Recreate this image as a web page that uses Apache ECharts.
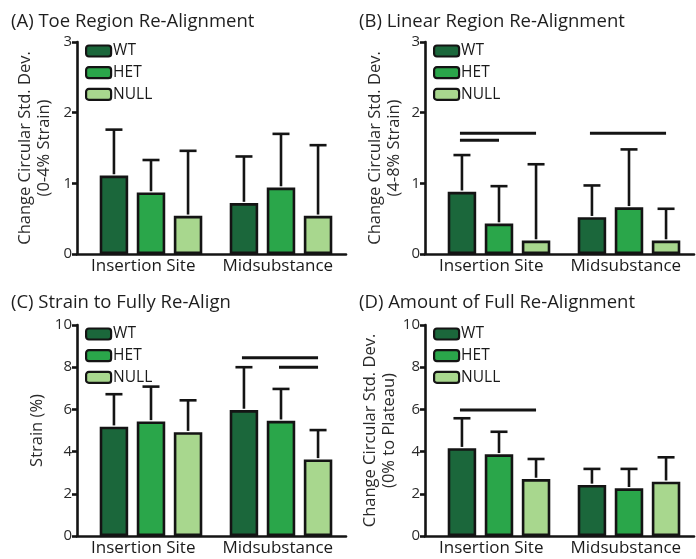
<!DOCTYPE html>
<html>
<head>
<meta charset="utf-8">
<script src="https://cdn.jsdelivr.net/npm/echarts@6/dist/echarts.min.js"></script>
<style>
html,body{margin:0;padding:0;background:#fff;}
#chart{width:696px;height:559px;}
</style>
</head>
<body>
<div id="chart"></div>
<script>
// ---- data ----
const categories = ['Insertion Site', 'Midsubstance'];
const genotypes = ['WT', 'HET', 'NULL'];

const titles = ['(A) Toe Region Re-Alignment', '(B) Linear Region Re-Alignment', '(C) Strain to Fully Re-Align', '(D) Amount of Full Re-Alignment'];
const yNames = ['Change Circular Std. Dev.\n(0-4% Strain)', 'Change Circular Std. Dev.\n(4-8% Strain)', 'Strain (%)', 'Change Circular Std. Dev.\n(0% to Plateau)'];
const yMax = [3, 3, 10, 10];
const yInterval = [1, 1, 2, 2];

// means per genotype, one value per category
const A_WT = [1.11, 0.72], A_HET = [0.87, 0.94], A_NULL = [0.54, 0.54];
const A_WT_err = [1.76, 1.38], A_HET_err = [1.33, 1.70], A_NULL_err = [1.46, 1.54];

const B_WT = [0.88, 0.52], B_HET = [0.43, 0.66], B_NULL = [0.19, 0.19];
const B_WT_err = [1.40, 0.97], B_HET_err = [0.96, 1.48], B_NULL_err = [1.27, 0.64];

const C_WT = [5.18, 5.97], C_HET = [5.43, 5.46], C_NULL = [4.92, 3.63];
const C_WT_err = [6.72, 8.0], C_HET_err = [7.08, 6.97], C_NULL_err = [6.43, 5.02];

const D_WT = [4.16, 2.42], D_HET = [3.87, 2.26], D_NULL = [2.70, 2.57];
const D_WT_err = [5.58, 3.18], D_HET_err = [4.94, 3.18], D_NULL_err = [3.65, 3.73];

// significance bars: [categoryIndex, fromGenotype, toGenotype, yValue]
const A_sig = [];
const B_sig = [[0, 0, 2, 1.71], [0, 0, 1, 1.61], [1, 0, 2, 1.71]];
const C_sig = [[1, 0, 2, 8.45], [1, 1, 2, 8.0]];
const D_sig = [[0, 0, 2, 5.97]];

const panels = [
  {means: [A_WT, A_HET, A_NULL], errs: [A_WT_err, A_HET_err, A_NULL_err], sig: A_sig},
  {means: [B_WT, B_HET, B_NULL], errs: [B_WT_err, B_HET_err, B_NULL_err], sig: B_sig},
  {means: [C_WT, C_HET, C_NULL], errs: [C_WT_err, C_HET_err, C_NULL_err], sig: C_sig},
  {means: [D_WT, D_HET, D_NULL], errs: [D_WT_err, D_HET_err, D_NULL_err], sig: D_sig}
];

// ---- styles ----
const colors = ['#1b673b', '#2aa64a', '#a8d78e'];
const FONT = 'Open Sans';
const BAR_W = 28.5;
const BAR_GAP = 0.30;
const STEP = BAR_W * (1 + BAR_GAP);
const LINE = '#141414';
const LW = 2.6;

// axis grid (visible axes) and bar grid (hidden axes, same vertical extent)
const axisGrid = [
  {left: 77, top: 42, width: 269, height: 212},
  {left: 425, top: 42, width: 269, height: 212},
  {left: 77, top: 325, width: 269, height: 211},
  {left: 425, top: 325, width: 269, height: 211}
];
const barInset = 9, barWidthTotal = 260;
const titlePos = [
  {left: 6, top: 7}, {left: 354, top: 7}, {left: 6, top: 288}, {left: 354, top: 288}
];
const nameGaps = [23, 21, 30, 18];

const option = {
  backgroundColor: '#fff',
  animation: false,
  title: [], grid: [], xAxis: [], yAxis: [], legend: [], series: []
};

panels.forEach((p, k) => {
  const g = axisGrid[k];
  const ai = 2 * k, bi = 2 * k + 1;
  option.title.push({
    text: titles[k], left: titlePos[k].left, top: titlePos[k].top,
    textStyle: {fontFamily: FONT, fontSize: 18.5, fontWeight: 'normal', color: '#1e1e1e'}
  });
  option.grid.push({left: g.left, top: g.top, width: g.width, height: g.height});
  option.grid.push({left: g.left + barInset, top: g.top, width: barWidthTotal, height: g.height});

  // visible axes
  option.xAxis.push({
    type: 'category', gridIndex: ai, data: categories,
    axisLine: {lineStyle: {color: LINE, width: LW}},
    axisTick: {show: false},
    axisLabel: {interval: 0, fontFamily: FONT, fontSize: 17, color: '#1a1a1a', margin: 4, padding: [0, 2, 0, 0]}
  });
  option.yAxis.push({
    type: 'value', gridIndex: ai, min: 0, max: yMax[k], interval: yInterval[k],
    name: yNames[k], nameLocation: 'middle', nameGap: nameGaps[k],
    nameTextStyle: {fontFamily: FONT, fontSize: 16.5, color: '#2a2a2a', lineHeight: 19},
    axisLine: {show: true, lineStyle: {color: LINE, width: LW}},
    axisTick: {show: true, length: 5, lineStyle: {color: LINE, width: LW}},
    axisLabel: {fontFamily: FONT, fontSize: 15, color: '#2a2a2a', margin: 5},
    splitLine: {show: false}
  });
  // hidden axes for the bars
  option.xAxis.push({type: 'category', gridIndex: bi, data: categories, show: false});
  option.yAxis.push({type: 'value', gridIndex: bi, min: 0, max: yMax[k], interval: yInterval[k], show: false, splitLine: {show: false}});

  option.legend.push({
    orient: 'vertical', left: g.left + 8, top: g.top + 1, padding: 0,
    itemWidth: 25, itemHeight: 11, itemGap: 5.7,
    data: genotypes,
    itemStyle: {borderColor: LINE, borderWidth: 2.2},
    textStyle: {fontFamily: FONT, fontSize: 15.5, color: '#1a1a1a', lineHeight: 13, padding: [0, 0, 0, -3]}
  });
  genotypes.forEach((gname, i) => {
    option.series.push({
      type: 'bar', name: gname, xAxisIndex: bi, yAxisIndex: bi,
      data: p.means[i], barWidth: BAR_W, barGap: (BAR_GAP * 100) + '%',
      itemStyle: {color: colors[i], borderColor: LINE, borderWidth: LW},
      z: 2
    });
  });
  // error bars (upper whisker only)
  const errData = [];
  genotypes.forEach((gname, i) => {
    categories.forEach((c, j) => {
      errData.push([j, i, p.means[i][j], p.errs[i][j]]);
    });
  });
  option.series.push({
    type: 'custom', xAxisIndex: bi, yAxisIndex: bi, z: 3,
    encode: {x: 0, y: [2, 3]},
    data: errData,
    renderItem: function (params, api) {
      const j = api.value(0), i = api.value(1);
      const lo = api.coord([j, api.value(2)]);
      const hi = api.coord([j, api.value(3)]);
      const x = lo[0] + (i - 1) * STEP;
      const half = 8.5;
      const st = {stroke: LINE, lineWidth: LW, fill: null};
      return {
        type: 'group',
        children: [
          {type: 'line', shape: {x1: x, y1: lo[1] - LW / 2, x2: x, y2: hi[1]}, style: st},
          {type: 'line', shape: {x1: x - half, y1: hi[1], x2: x + half, y2: hi[1]}, style: st}
        ]
      };
    }
  });
  // significance lines
  if (p.sig.length) {
    option.series.push({
      type: 'custom', xAxisIndex: bi, yAxisIndex: bi, z: 3,
      encode: {x: 0, y: 3},
      data: p.sig,
      renderItem: function (params, api) {
        const j = api.value(0);
        const c = api.coord([j, api.value(3)]);
        const x1 = c[0] + (api.value(1) - 1) * STEP - 2;
        const x2 = c[0] + (api.value(2) - 1) * STEP;
        return {type: 'line', shape: {x1: x1, y1: c[1], x2: x2, y2: c[1]},
          style: {stroke: LINE, lineWidth: 3}};
      }
    });
  }
});

const chart = echarts.init(document.getElementById('chart'), null, {renderer: 'canvas'});
chart.setOption(option);
</script>
</body>
</html>
